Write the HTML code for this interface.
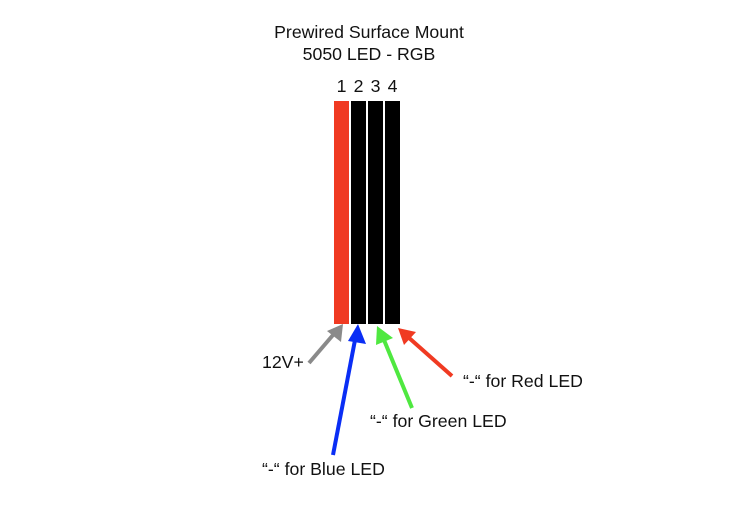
<!DOCTYPE html>
<html><head><meta charset="utf-8"><style>body{margin:0;background:#fff}</style></head>
<body>
<svg width="750" height="500" xmlns="http://www.w3.org/2000/svg" font-family="Liberation Sans, Arial, sans-serif" font-size="17.7" fill="#111">
<text x="369" y="38" text-anchor="middle">Prewired Surface Mount</text>
<text x="369" y="60" text-anchor="middle">5050 LED - RGB</text>
<text x="341.5" y="92" text-anchor="middle">1</text>
<text x="358.5" y="92" text-anchor="middle">2</text>
<text x="375.5" y="92" text-anchor="middle">3</text>
<text x="392.5" y="92" text-anchor="middle">4</text>
<rect x="334" y="101" width="15" height="223" fill="#f03a22"/>
<rect x="351" y="101" width="15" height="223" fill="#000"/>
<rect x="368" y="101" width="15" height="223" fill="#000"/>
<rect x="385" y="101" width="15" height="223" fill="#000"/>
<g stroke-width="4" fill="none">
<path d="M309,363 L333,335" stroke="#8a8a8a"/>
<polygon points="343,324 341,342 327,331" fill="#8a8a8a" stroke="none"/>
<path d="M333,455 L355,340" stroke="#0a2ef5"/>
<polygon points="358,324 366,344 348,341" fill="#0a2ef5" stroke="none"/>
<path d="M412,408 L384,340" stroke="#4fe840"/>
<polygon points="377,326 393,338 376,345" fill="#4fe840" stroke="none"/>
<path d="M452,376 L408,337" stroke="#f03a22"/>
<polygon points="398,328 416,332 404,345" fill="#f03a22" stroke="none"/>
</g>
<text x="262" y="368">12V+</text>
<text x="463" y="387">“-“ for Red LED</text>
<text x="370" y="427">“-“ for Green LED</text>
<text x="262" y="475">“-“ for Blue LED</text>
</svg>
</body></html>
